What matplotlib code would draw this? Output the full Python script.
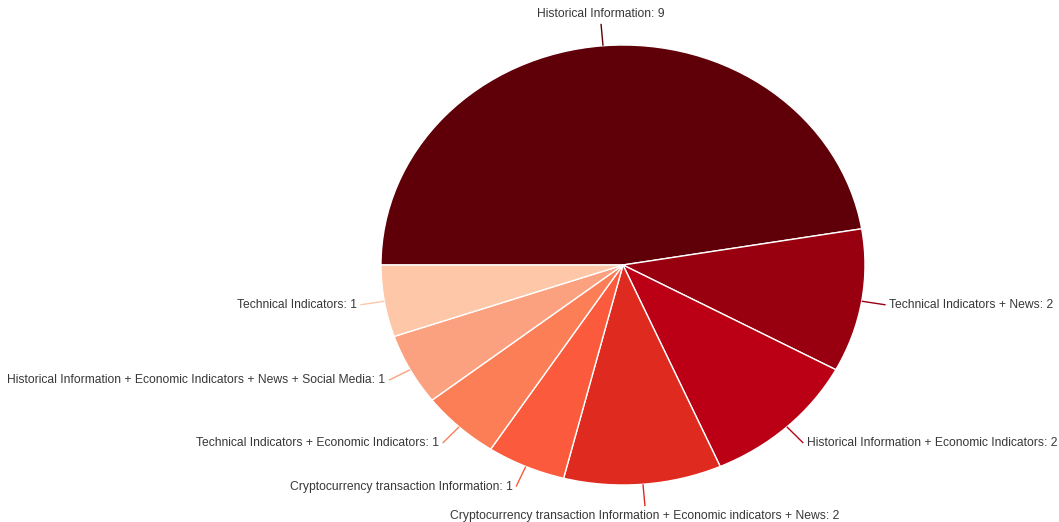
import numpy as np
import matplotlib
matplotlib.use("Agg")
import matplotlib.pyplot as plt

plt.rcParams['font.family'] = ['Liberation Sans', 'DejaVu Sans']

categories = [
    "Historical Information",
    "Technical Indicators + News",
    "Historical Information + Economic Indicators",
    "Cryptocurrency transaction Information + Economic indicators + News",
    "Cryptocurrency transaction Information",
    "Technical Indicators + Economic Indicators",
    "Historical Information + Economic Indicators + News + Social Media",
    "Technical Indicators",
]
counts = [9, 2, 2, 2, 1, 1, 1, 1]
colors = ["#5f0008", "#98000f", "#bb0015", "#de2a1f",
          "#fb5a3c", "#fc7e57", "#fca17f", "#fdc7a8"]

W, H = 1059, 522
fig = plt.figure(figsize=(W / 100, H / 100), dpi=100)
ax = fig.add_axes([0, 0, 1, 1])

# pie centre and radii in pixels (the pie is drawn slightly wider than tall)
cx, cy = 623, 265
rx, ry = 242, 220

wedges, _ = ax.pie(counts, colors=colors, startangle=180, counterclock=False,
                   radius=1.0, center=(0, 0),
                   wedgeprops=dict(edgecolor="white", linewidth=1.0))

ax.set_aspect('auto')
ax.set_xlim(-cx / rx, (W - cx) / rx)
ax.set_ylim(-(H - cy) / ry, cy / ry)
ax.axis('off')

gap_x = 3.5 / rx
gap_y = 3.5 / ry
for w, name, val, col in zip(wedges, categories, counts, colors):
    theta = np.deg2rad((w.theta1 + w.theta2) / 2)
    c, s = np.cos(theta), np.sin(theta)
    x1, y1 = c, s
    x2, y2 = 1.1 * c, 1.1 * s
    ax.plot([x1, x2], [y1, y2], color=col, lw=1.0, solid_capstyle='butt')
    label = f"{name}: {val}"
    if abs(c) < 0.2:
        ha = 'center'
        if s > 0:
            va, tx, ty = 'bottom', x2, y2 + gap_y
        else:
            va, tx, ty = 'top', x2, y2 - gap_y
    elif c > 0:
        ha, va, tx, ty = 'left', 'center', x2 + gap_x, y2
    else:
        ha, va, tx, ty = 'right', 'center', x2 - gap_x, y2
    ax.text(tx, ty, label, ha=ha, va=va, fontsize=8.7, color="#383838")

fig.savefig("out.png", dpi=100, facecolor="white")
